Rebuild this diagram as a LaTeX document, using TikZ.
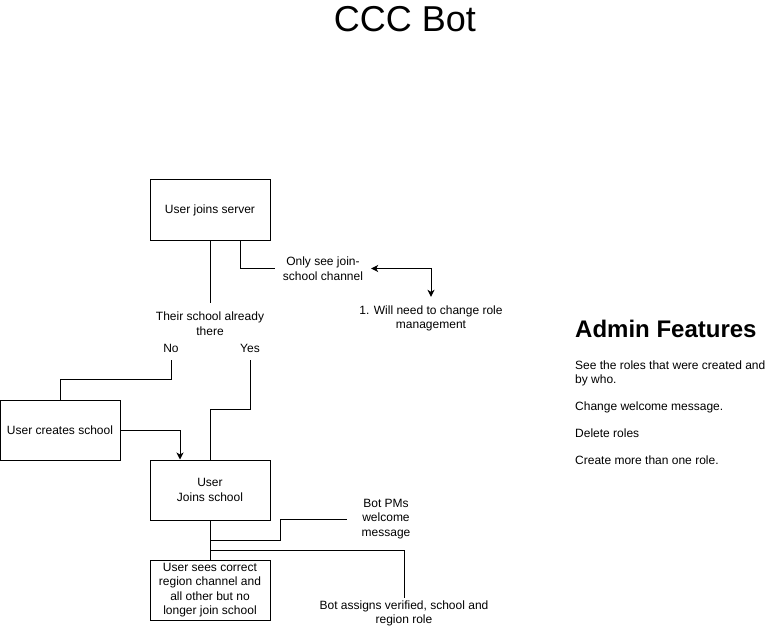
\documentclass[tikz,border=0pt]{standalone}
\usepackage{fontspec}
\setmainfont{Liberation Sans}
\usetikzlibrary{arrows.meta}
\begin{document}
\begin{tikzpicture}[x=1pt,y=-1pt,
  every node/.style={font=\fontsize{12}{14.5}\selectfont, inner sep=0pt, align=center},
  box/.style={draw=black, line width=1pt, minimum width=120pt, minimum height=60pt},
  conn/.style={line width=1pt, draw=black},
  tip/.style={-{Stealth[length=7pt,width=7pt,inset=2pt]}},
  dtip/.style={{Stealth[length=7pt,width=7pt,inset=2pt]}-{Stealth[length=7pt,width=7pt,inset=2pt]}},
  feat/.style={anchor=west, align=left}]
\useasboundingbox (0,0) rectangle (781,631);

\node[font=\fontsize{36}{40}\selectfont] (title) at (405,19) {CCC Bot};

\node[box] (join) at (210,210) {User joins server};
\node[minimum height=41pt] (q) at (210,323.5) {Their school already\\there};
\node[minimum width=96pt] (only) at (323,268.5) {Only see join-\\school channel};
\node[minimum height=43pt] (will) at (431,318.5) {1. Will need to change role\\management};
\node[minimum height=24pt] (no) at (171,348) {No};
\node[minimum height=24pt] (yes) at (250,348) {Yes};
\node[box] (create) at (60,430) {User creates school};
\node[box] (joins) at (210,490) {User\\Joins school};
\node[box] (sees) at (210,590) {User sees correct\\region channel and\\all other but no\\longer join school};
\node[minimum width=78pt] (pms) at (386,519) {Bot PMs\\welcome\\message};
\node[minimum height=31pt] (assigns) at (404,613.5) {Bot assigns verified, school and\\region role};

\draw[conn] (join.south) -- (q.north);
\draw[conn] ([xshift=30pt]join.south) |- (only.west);
\draw[conn, dtip] (only.east) -| (will.north);
\draw[conn] (no.south) |- ([yshift=20pt]create.north) -- (create.north);
\draw[conn, tip] (create.east) -| ([xshift=-30pt]joins.north);
\draw[conn] (yes.south) |- ([yshift=50pt]joins.north) -- (joins.north);
\draw[conn] (joins.south) -- (sees.north);
\draw[conn] ([yshift=-20pt]joins.south) -- ++(70,0) |- (pms.west);
\draw[conn] ([yshift=-30pt]joins.south) -| (assigns.north);

\node[feat, font=\bfseries\fontsize{24}{28}\selectfont] (admin) at (575,329) {Admin Features};
\node[feat] (f1) at (575,373.5) {See the roles that were created and\\by who.};
\node[feat] (f2) at (575,407) {Change welcome message.};
\node[feat] (f3) at (575,433) {Delete roles};
\node[feat] (f4) at (575,460) {Create more than one role.};
\end{tikzpicture}
\end{document}
